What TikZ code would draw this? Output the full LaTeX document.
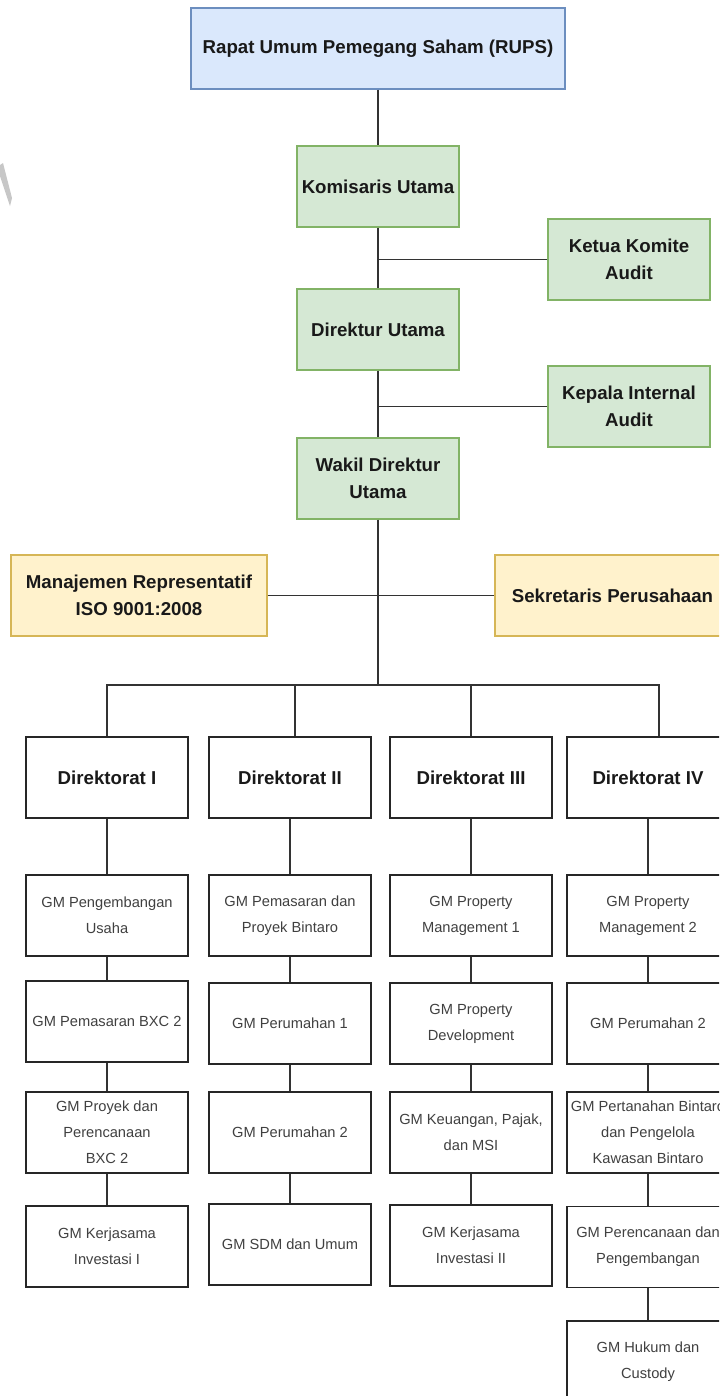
\documentclass[tikz,border=0pt]{standalone}
\usepackage{fontspec}
\setmainfont{Liberation Sans}
\definecolor{rupsfill}{HTML}{DAE8FC}
\definecolor{rupsline}{HTML}{6C8EBF}
\definecolor{komfill}{HTML}{D5E8D4}
\definecolor{komline}{HTML}{82B366}
\definecolor{stafffill}{HTML}{FFF2CC}
\definecolor{staffline}{HTML}{D6B656}
\begin{document}
\begin{tikzpicture}[x=0.75pt,y=-0.75pt,
  box/.style={draw=black!85,line width=0.9pt,inner sep=0pt,minimum width=121.5pt,minimum height=60.75pt,align=center},
  head/.style={box,font=\bfseries\fontsize{14}{20}\selectfont,text=black!90},
  gm/.style={box,font=\fontsize{11}{19.5}\selectfont,text=black!75},
  bluebox/.style={head,fill=rupsfill,draw=rupsline},
  greenbox/.style={head,fill=komfill,draw=komline},
  yellowbox/.style={head,fill=stafffill,draw=staffline},
  conn/.style={draw=black!80,line width=0.9pt}]
  \useasboundingbox (0,0) rectangle (719,1396);
  \clip (0,0) rectangle (719,1396);
  \fill[black!22] (0,165) -- (3,163) -- (12,198) -- (10,206) -- (0,176) -- cycle;
  % top of the structure
  \node[bluebox,minimum width=280.5pt] (rups) at (378,48.5) {Rapat Umum Pemegang Saham (RUPS)};
  \node[greenbox] (komut) at (378,186.5) {Komisaris Utama};
  \node[greenbox] (ketua) at (629,259.5) {Ketua Komite\\Audit};
  \node[greenbox] (dirut) at (378,329.5) {Direktur Utama};
  \node[greenbox] (kia) at (629,406.5) {Kepala Internal\\Audit};
  \node[greenbox] (wadirut) at (378,478.5) {Wakil Direktur\\Utama};
  \node[yellowbox,minimum width=192pt] (mr) at (139,595.5) {Manajemen Representatif\\ISO 9001:2008};
  \node[yellowbox,minimum width=176.25pt] (sekper) at (612.5,595.5) {Sekretaris Perusahaan};
  \draw[conn] (rups) -- (komut);
  \draw[conn] (komut) -- (dirut);
  \draw[conn] (dirut) -- (wadirut);
  \draw[conn] (ketua.west) -- (ketua.west -| komut.south);
  \draw[conn] (kia.west) -- (kia.west -| dirut.south);
  \draw[conn] (mr.east) -- (sekper.west);
  % directorates
  \node[head] (d1) at (107,777.5) {Direktorat I};
  \node[head] (d2) at (290,777.5) {Direktorat II};
  \node[head] (d3) at (471,777.5) {Direktorat III};
  \node[head] (d4) at (648,777.5) {Direktorat IV};
  \coordinate (bus) at (378,685);
  \draw[conn] (wadirut) -- (bus);
  \draw[conn] (bus) -| (d1.north);
  \draw[conn] (bus) -| ([xshift=3.75pt]d2.north);
  \draw[conn] (bus) -| (d3.north);
  \draw[conn] (bus) -| ([xshift=8.25pt]d4.north);
  % general managers
  \node[gm] (g11) at (107,915.5) {GM Pengembangan\\Usaha};
  \node[gm] (g12) at (107,1021.5) {GM Pemasaran BXC 2};
  \node[gm] (g13) at (107,1132.5) {GM Proyek dan\\Perencanaan\\BXC 2};
  \node[gm] (g14) at (107,1246.5) {GM Kerjasama\\Investasi I};
  \node[gm] (g21) at (290,915.5) {GM Pemasaran dan\\Proyek Bintaro};
  \node[gm] (g22) at (290,1023.5) {GM Perumahan 1};
  \node[gm] (g23) at (290,1132.5) {GM Perumahan 2};
  \node[gm] (g24) at (290,1244.5) {GM SDM dan Umum};
  \node[gm] (g31) at (471,915.5) {GM Property\\Management 1};
  \node[gm] (g32) at (471,1023.5) {GM Property\\Development};
  \node[gm] (g33) at (471,1132.5) {GM Keuangan, Pajak,\\dan MSI};
  \node[gm] (g34) at (471,1245.5) {GM Kerjasama\\Investasi II};
  \node[gm] (g41) at (648,915.5) {GM Property\\Management 2};
  \node[gm] (g42) at (648,1023.5) {GM Perumahan 2};
  \node[gm] (g43) at (648,1132.5) {GM Pertanahan Bintaro\\dan Pengelola\\Kawasan Bintaro};
  \node[gm] (g44) at (648,1247) {GM Perencanaan dan\\Pengembangan};
  \node[gm] (g45) at (648,1361.5) {GM Hukum dan\\Custody};
  \foreach \a/\b in {d1/g11,g11/g12,g12/g13,g13/g14,
                     d2/g21,g21/g22,g22/g23,g23/g24,
                     d3/g31,g31/g32,g32/g33,g33/g34,
                     d4/g41,g41/g42,g42/g43,g43/g44,g44/g45}
    \draw[conn] (\a) -- (\b);
\end{tikzpicture}
\end{document}
